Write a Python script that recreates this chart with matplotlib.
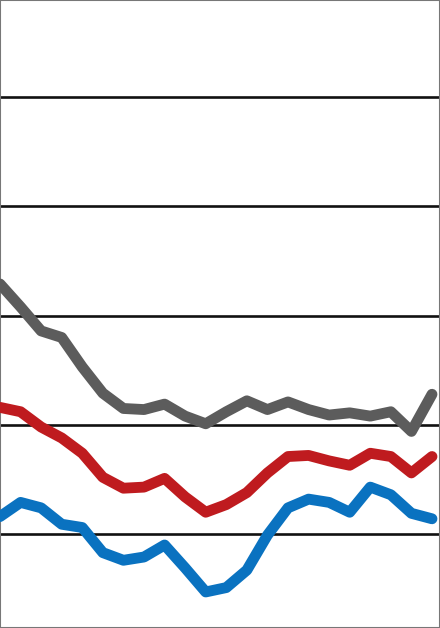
import matplotlib
matplotlib.use("Agg")
import matplotlib.pyplot as plt
import numpy as np

# values (gridlines every 10 units)
periods = np.arange(22)
gray_vals = [22.9, 20.8, 18.6, 18.0, 15.3, 12.9, 11.5, 11.4, 11.9, 10.8, 10.1,
             11.2, 12.2, 11.4, 12.1, 11.4, 10.9, 11.1, 10.8, 11.2, 9.4, 12.8]
red_vals = [11.6, 11.2, 9.8, 8.8, 7.4, 5.2, 4.2, 4.3, 5.1, 3.4, 2.0,
            2.7, 3.8, 5.6, 7.1, 7.2, 6.7, 6.3, 7.4, 7.1, 5.6, 7.1]
blue_vals = [1.6, 2.9, 2.4, 0.9, 0.6, -1.7, -2.4, -2.1, -1.0, -3.1, -5.3,
             -4.9, -3.3, -0.1, 2.4, 3.2, 2.9, 2.0, 4.3, 3.6, 1.9, 1.4]
grid_levels = [0, 10, 20, 30, 40]

fig = plt.figure(figsize=(4.4, 6.28), dpi=100)
ax = fig.add_axes([0, 0, 1, 1])

for g in grid_levels:
    ax.axhline(g, color="#111111", lw=1.9, zorder=1)

style = dict(lw=7.8, solid_joinstyle="round", solid_capstyle="round", zorder=3)
ax.plot(periods, gray_vals, color="#5c5c5c", **style)
ax.plot(periods, red_vals, color="#bf1b1f", **style)
ax.plot(periods, blue_vals, color="#0a72c0", **style)

ax.set_xlim(0, 21 * 440 / 432)
ax.set_ylim(-8.6, 48.9)
ax.set_xticks([])
ax.set_yticks([])
for s in ax.spines.values():
    s.set_color("#777777")
    s.set_linewidth(1.5)

fig.savefig("out.png", dpi=100)
